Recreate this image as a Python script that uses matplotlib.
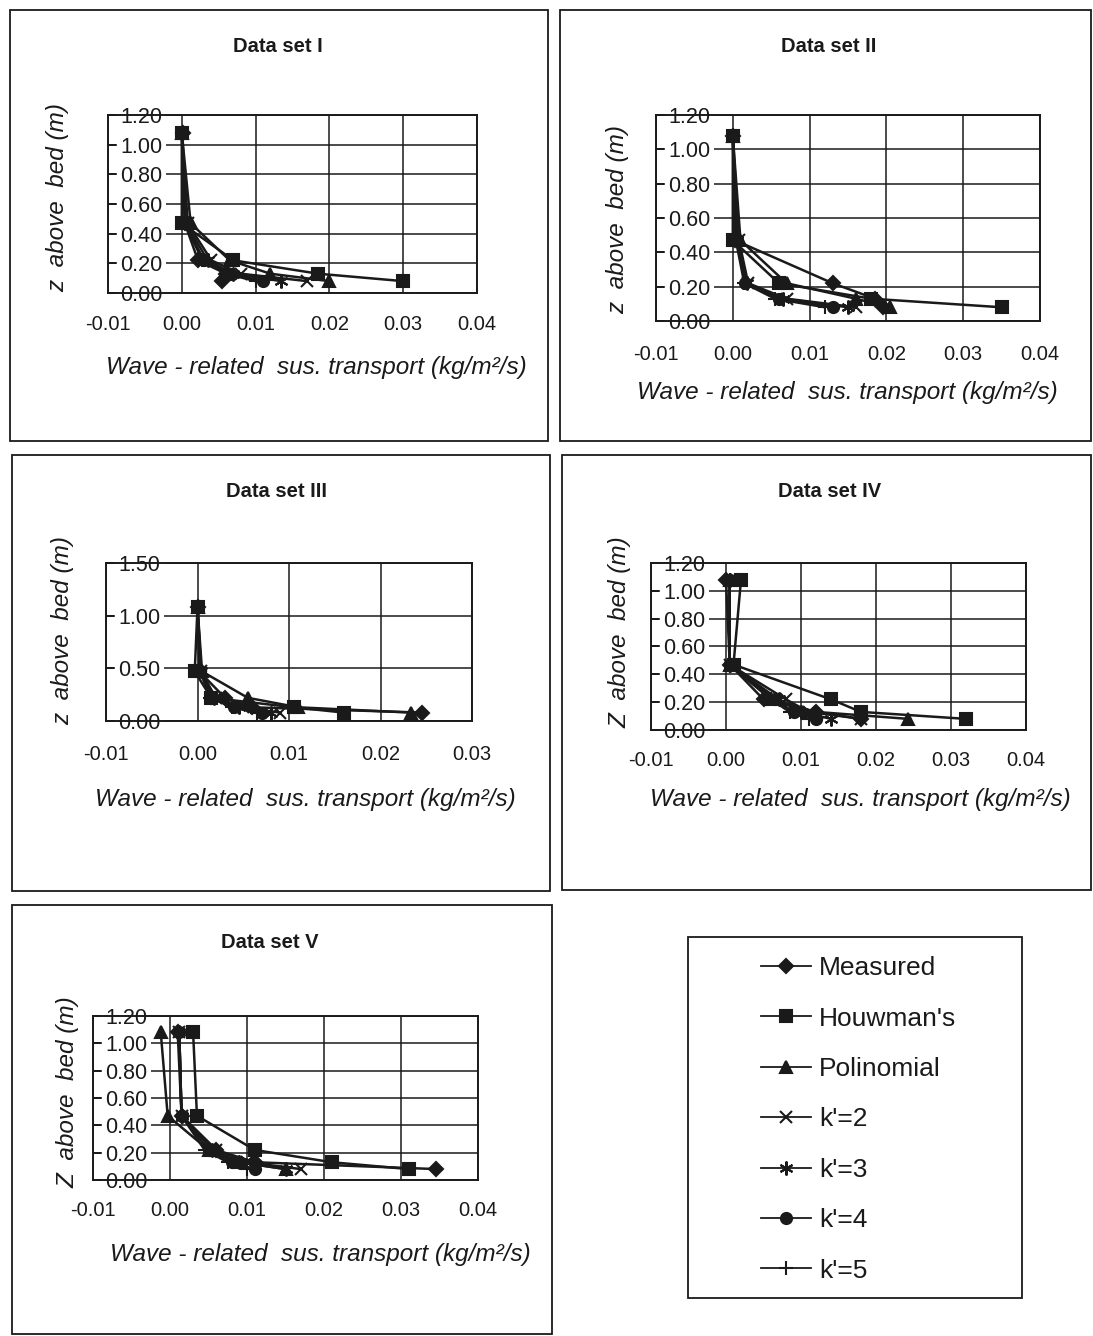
import matplotlib
matplotlib.use('Agg')
import matplotlib.pyplot as plt
from matplotlib.patches import Rectangle

# ---------------- data ----------------
series_names = ["Measured", "Houwman's", "Polinomial", "k'=2", "k'=3", "k'=4", "k'=5"]
z_levels = [1.08, 0.47, 0.22, 0.13, 0.08]   # z above bed (m)

# wave-related suspended transport (kg/m2/s), one list per series (same order as series_names)
set1_x = [
    [0.0001, 0.0004, 0.0022, 0.0060, 0.0055],
    [0.0000, 0.0000, 0.0070, 0.0185, 0.0300],
    [0.0000, 0.0012, 0.0065, 0.0120, 0.0200],
    [0.0000, 0.0008, 0.0040, 0.0080, 0.0170],
    [0.0000, 0.0006, 0.0035, 0.0070, 0.0135],
    [0.0000, 0.0005, 0.0030, 0.0065, 0.0110],
    [0.0000, 0.0004, 0.0028, 0.0060, 0.0100],
]
set2_x = [
    [0.0000, 0.0003, 0.0130, 0.0185, 0.0195],
    [0.0000, 0.0000, 0.0060, 0.0180, 0.0350],
    [0.0000, 0.0010, 0.0070, 0.0160, 0.0205],
    [0.0000, 0.0008, 0.0020, 0.0070, 0.0160],
    [0.0000, 0.0006, 0.0018, 0.0065, 0.0150],
    [0.0000, 0.0005, 0.0016, 0.0060, 0.0130],
    [0.0000, 0.0004, 0.0015, 0.0055, 0.0120],
]
set3_x = [
    [0.0000, 0.0002, 0.0030, 0.0060, 0.0245],
    [0.0000, -0.0003, 0.0015, 0.0105, 0.0160],
    [0.0000, 0.0005, 0.0055, 0.0110, 0.0233],
    [0.0000, 0.0004, 0.0020, 0.0050, 0.0090],
    [0.0000, 0.0004, 0.0018, 0.0045, 0.0080],
    [0.0000, 0.0003, 0.0015, 0.0040, 0.0070],
    [0.0000, 0.0003, 0.0014, 0.0038, 0.0065],
]
set4_x = [
    [0.0000, 0.0005, 0.0050, 0.0120, 0.0180],
    [0.0020, 0.0010, 0.0140, 0.0180, 0.0320],
    [0.0005, 0.0005, 0.0060, 0.0120, 0.0243],
    [0.0005, 0.0005, 0.0080, 0.0110, 0.0180],
    [0.0005, 0.0005, 0.0070, 0.0100, 0.0140],
    [0.0005, 0.0005, 0.0065, 0.0090, 0.0120],
    [0.0005, 0.0005, 0.0060, 0.0085, 0.0110],
]
set5_x = [
    [0.0010, 0.0015, 0.0060, 0.0110, 0.0345],
    [0.0030, 0.0035, 0.0110, 0.0210, 0.0310],
    [-0.0012, -0.0003, 0.0050, 0.0090, 0.0150],
    [0.0012, 0.0015, 0.0060, 0.0100, 0.0170],
    [0.0012, 0.0015, 0.0055, 0.0090, 0.0150],
    [0.0012, 0.0015, 0.0050, 0.0080, 0.0110],
    [0.0012, 0.0015, 0.0045, 0.0075, 0.0100],
]
titles = ["Data set I", "Data set II", "Data set III", "Data set IV", "Data set V"]
xticks_a = [-0.01, 0.00, 0.01, 0.02, 0.03, 0.04]
xticks_b = [-0.01, 0.00, 0.01, 0.02, 0.03]
yticks_a = [0.00, 0.20, 0.40, 0.60, 0.80, 1.00, 1.20]
yticks_b = [0.00, 0.50, 1.00, 1.50]

# ---------------- styling ----------------
W, H = 1093, 1336
fig = plt.figure(figsize=(W / 100, H / 100), dpi=100)
fig.patch.set_facecolor('white')
INK = '#1a1a1a'
markers = ['D', 's', '^', 'x', (6, 2, 0), 'o', '+']
msizes = [7, 9, 9, 8, 10, 8, 10]
xtick_font = dict(family='Liberation Sans', size=14.5)
ytick_font = dict(family='Liberation Sans', size=15.5)
label_font = dict(family='Liberation Sans', style='italic', size=17.5)

def fx(x):
    return x / W

def fy(y):
    return 1 - y / H

def box(l, t, r, b):
    fig.patches.append(Rectangle((fx(l), fy(b)), fx(r - l), (b - t) / H,
                                 transform=fig.transFigure, fill=False,
                                 edgecolor=INK, linewidth=1.3))

panels = [
    dict(ax=(108, 477, 115, 293), box=(10, 10, 548, 441), title=(278, 47),
         xl=(316, 368), yl=(58, 197), pad=16, data=set1_x, xt=xticks_a, yt=yticks_a, ylim=1.2),
    dict(ax=(656, 1040, 115, 321), box=(560, 10, 1091, 441), title=(829, 47),
         xl=(847, 392), yl=(618, 220), pad=17, data=set2_x, xt=xticks_a, yt=yticks_a, ylim=1.2),
    dict(ax=(106, 472, 563, 721), box=(12, 455, 550, 891), title=(276, 491),
         xl=(305, 800), yl=(63, 630), pad=17, data=set3_x, xt=xticks_b, yt=yticks_b, ylim=1.5),
    dict(ax=(651, 1026, 563, 730), box=(562, 455, 1091, 890), title=(830, 491),
         xl=(860, 800), yl=(620, 632), pad=15, data=set4_x, xt=xticks_a, yt=yticks_a, ylim=1.2),
    dict(ax=(93, 478, 1016, 1180), box=(12, 905, 552, 1334), title=(270, 943),
         xl=(320, 1254), yl=(68, 1092), pad=15, data=set5_x, xt=xticks_a, yt=yticks_a, ylim=1.2),
]
ylabels = ["z  above  bed (m)", "z  above  bed (m)", "z  above  bed (m)",
           "Z  above  bed (m)", "Z  above  bed (m)"]
xlabel = "Wave - related  sus. transport (kg/m\u00b2/s)"

line_handles = None
for i, p in enumerate(panels):
    l, r, t, b = p['ax']
    ax = fig.add_axes([fx(l), fy(b), fx(r - l), (b - t) / H])
    ax.set_facecolor('none')
    handles = []
    for j, xs in enumerate(p['data']):
        h, = ax.plot(xs, z_levels, color=INK, linewidth=1.8, marker=markers[j],
                     markersize=msizes[j], markerfacecolor=INK, markeredgecolor=INK,
                     markeredgewidth=1.5, label=series_names[j], zorder=3 + j * 0.01,
                     clip_on=False)
        handles.append(h)
    if line_handles is None:
        line_handles = handles
    ax.set_xlim(p['xt'][0], p['xt'][-1])
    ax.set_ylim(0, p['ylim'])
    ax.set_xticks(p['xt'])
    ax.set_xticklabels([f"{v:.2f}" for v in p['xt']], **xtick_font)
    ax.set_yticks(p['yt'])
    ax.set_yticklabels([f"{v:.2f}" for v in p['yt']], **ytick_font)
    ax.grid(True, color=INK, linewidth=1.1)
    ax.set_axisbelow(True)
    for s in ax.spines.values():
        s.set_color(INK)
        s.set_linewidth(1.4)
    ax.tick_params(axis='x', length=0, pad=p['pad'], colors=INK)
    ax.tick_params(axis='y', direction='in', length=6, width=1.4, pad=-9, colors=INK)
    for lab in ax.get_yticklabels():
        lab.set_horizontalalignment('left')
        lab.set_bbox(dict(facecolor='white', edgecolor='none', pad=2.5))
    fig.text(fx(p['title'][0]), fy(p['title'][1]), titles[i], ha='center', va='center',
             family='Liberation Sans', weight='bold', size=14.5, color=INK)
    fig.text(fx(p['xl'][0]), fy(p['xl'][1]), xlabel,
             ha='center', va='center', color=INK, **label_font)
    fig.text(fx(p['yl'][0]), fy(p['yl'][1]), ylabels[i], rotation=90,
             ha='center', va='center', color=INK, **label_font)
    box(*p['box'])

# legend panel
box(688, 937, 1022, 1298)
leg = fig.legend(handles=line_handles, labels=series_names, loc='upper left',
                 bbox_to_anchor=(fx(748), fy(943)), frameon=False,
                 prop=dict(family='Liberation Sans', size=19), handlelength=1.9,
                 handletextpad=0.3, labelspacing=1.0, borderpad=0)
for txt in leg.get_texts():
    txt.set_color(INK)
for lh in leg.legend_handles:
    lh.set_linewidth(1.3)

fig.savefig('out.png', dpi=100, facecolor='white')
